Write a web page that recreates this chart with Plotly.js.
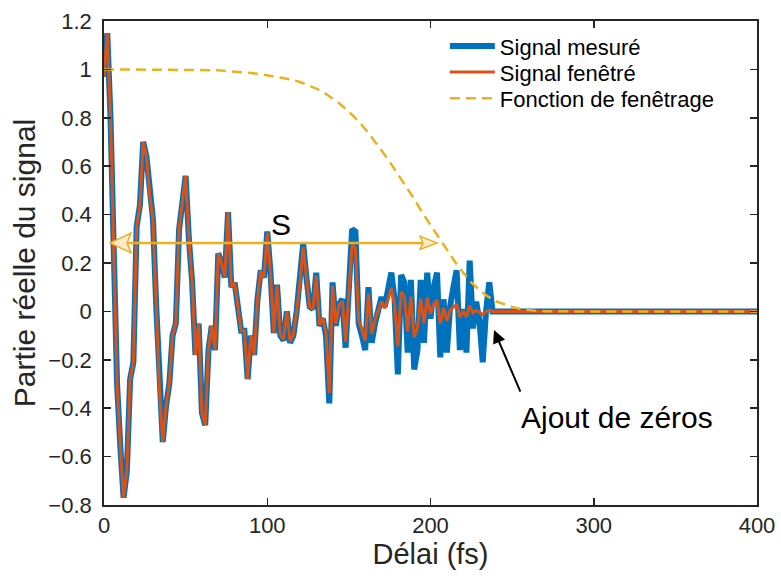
<!DOCTYPE html>
<html>
<head>
<meta charset="utf-8">
<script src="https://cdn.plot.ly/plotly-3.0.1.min.js"></script>
<style>html,body{margin:0;padding:0;background:#fff;}#chart{width:781px;height:576px;}</style>
</head>
<body>
<div id="chart"></div>
<script>
// Delay axis sampling (fs)
const tempsDebut = 0;
const tempsPasSignal = 2;
const tempsPasFenetre = 5;

// Measured signal, t = 0 .. 238 fs (step 2 fs)
const signalMesure = [
  0.97, 1.15, 0.80, 0.20, -0.30, -0.56, -0.77, -0.66, -0.28, -0.21,
  0.35, 0.44, 0.70, 0.64, 0.48, 0.38, 0.02, -0.33, -0.54, -0.39,
  -0.30, -0.10, -0.05, 0.34, 0.45, 0.56, 0.30, 0.12, -0.18, -0.05,
  -0.42, -0.47, -0.16, -0.06, -0.16, 0.24, 0.20, 0.14, 0.41, 0.10,
  0.12, 0.02, -0.08, -0.08, -0.28, -0.10, -0.18, 0.05, 0.17, 0.14,
  0.33, 0.16, -0.09, 0.11, -0.10, -0.12, 0.00, -0.13, -0.10, 0.00,
  0.12, 0.28, 0.14, 0.02, 0.01, 0.16, -0.06, -0.03, -0.10, -0.38,
  0.12, -0.06, 0.03, 0.05, -0.15, 0.12, 0.34, 0.33, -0.05, -0.10,
  -0.16, 0.10, -0.13, -0.05, 0.01, 0.06, 0.02, 0.08, 0.16, 0.05,
  -0.26, 0.15, 0.12, -0.17, 0.13, -0.24, -0.16, 0.13, -0.13, 0.16,
  -0.03, 0.10, 0.16, -0.19, 0.05, -0.17, 0.02, 0.10, 0.17, -0.16,
  0.01, -0.17, 0.21, -0.07, 0.04, -0.04, -0.21, 0.00, 0.12, 0.00
];

// Windowed signal, t = 0 .. 238 fs (step 2 fs)
const signalFenetre = [
  0.97, 1.15, 0.80, 0.20, -0.30, -0.56, -0.77, -0.66, -0.28, -0.21,
  0.35, 0.44, 0.70, 0.64, 0.48, 0.38, 0.02, -0.33, -0.54, -0.39,
  -0.30, -0.10, -0.05, 0.34, 0.45, 0.56, 0.30, 0.12, -0.18, -0.05,
  -0.42, -0.47, -0.16, -0.06, -0.16, 0.24, 0.20, 0.14, 0.41, 0.10,
  0.12, 0.02, -0.08, -0.08, -0.278, -0.099, -0.178, 0.049, 0.168, 0.138,
  0.324, 0.157, -0.088, 0.107, -0.097, -0.116, 0.000, -0.125, -0.096, 0.000,
  0.114, 0.265, 0.132, 0.019, 0.009, 0.147, -0.055, -0.027, -0.090, -0.338,
  0.105, -0.052, 0.026, 0.042, -0.125, 0.099, 0.275, 0.263, -0.039, -0.077,
  -0.120, 0.073, -0.093, -0.035, 0.007, 0.040, 0.013, 0.050, 0.096, 0.029,
  -0.145, 0.081, 0.062, -0.084, 0.061, -0.107, -0.068, 0.052, -0.049, 0.057,
  -0.010, 0.031, 0.047, -0.051, 0.013, -0.039, 0.004, 0.019, 0.030, -0.025,
  0.001, -0.022, 0.024, -0.007, 0.004, -0.003, -0.014, 0.000, 0.006, 0.000
];

// Zero padding, t = 240 .. 400 fs (step 2 fs)
const ajoutZeros = [
  0, 0, 0, 0, 0, 0, 0, 0, 0, 0,
  0, 0, 0, 0, 0, 0, 0, 0, 0, 0,
  0, 0, 0, 0, 0, 0, 0, 0, 0, 0,
  0, 0, 0, 0, 0, 0, 0, 0, 0, 0,
  0, 0, 0, 0, 0, 0, 0, 0, 0, 0,
  0, 0, 0, 0, 0, 0, 0, 0, 0, 0,
  0, 0, 0, 0, 0, 0, 0, 0, 0, 0,
  0, 0, 0, 0, 0, 0, 0, 0, 0, 0,
  0
];

// Window function, t = 0 .. 400 fs (step 5 fs)
const fonctionFenetrage = [
  1, 1, 1, 1, 1, 1, 1, 1, 1, 1, 1, 1,
  0.998, 0.997, 0.996, 0.994, 0.991, 0.988, 0.985, 0.981, 0.976, 0.971,
  0.966, 0.958, 0.948, 0.936, 0.921, 0.903, 0.880, 0.855, 0.825, 0.792,
  0.754, 0.712, 0.665, 0.618, 0.568, 0.517, 0.465, 0.408, 0.357, 0.305,
  0.255, 0.205, 0.160, 0.120, 0.088, 0.062, 0.042, 0.029, 0.018, 0.010,
  0.005, 0.002, 0.001,
  0, 0, 0, 0, 0, 0, 0, 0, 0, 0, 0, 0, 0,
  0, 0, 0, 0, 0, 0, 0, 0, 0, 0, 0, 0, 0
];

const seriesNoms = ['Signal mesuré', 'Signal fenêtré', 'Fonction de fenêtrage'];
const xTicks = [0, 100, 200, 300, 400];
const yTicks = [-0.8, -0.6, -0.4, -0.2, 0, 0.2, 0.4, 0.6, 0.8, 1, 1.2];
const yTickLabels = ['\u22120.8', '\u22120.6', '\u22120.4', '\u22120.2', '0', '0.2', '0.4', '0.6', '0.8', '1', '1.2'];

const FONT = '"Liberation Sans", Arial, Helvetica, sans-serif';
const AX = '#262626';
const YEL = '#EDB120';

const traces = [
  {
    type: 'scatter', mode: 'lines', name: seriesNoms[0], legend: 'legend',
    x0: tempsDebut, dx: tempsPasSignal, y: signalMesure.concat(ajoutZeros),
    line: {color: '#0072BD', width: 6}
  },
  {
    type: 'scatter', mode: 'lines', name: seriesNoms[1], legend: 'legend2',
    x0: tempsDebut, dx: tempsPasSignal, y: signalFenetre.concat(ajoutZeros),
    line: {color: '#D95319', width: 3}
  },
  {
    type: 'scatter', mode: 'lines', name: seriesNoms[2], legend: 'legend3',
    x0: tempsDebut, dx: tempsPasFenetre, y: fonctionFenetrage,
    line: {color: YEL, width: 2.5, dash: '10px,6px'}
  }
];

function legendRow(yPos) {
  return {
    x: 0.522, y: yPos, xanchor: 'left', yanchor: 'middle',
    bgcolor: 'rgba(0,0,0,0)', borderwidth: 0,
    font: {family: FONT, size: 22, color: '#000'},
    itemwidth: 45, tracegroupgap: 0
  };
}

const layout = {
  width: 781, height: 576,
  margin: {l: 104, r: 24, t: 21, b: 71, pad: 0},
  paper_bgcolor: '#fff', plot_bgcolor: '#fff',
  font: {family: FONT, color: AX},
  showlegend: true,
  legend: legendRow(0.948),
  legend2: legendRow(0.894),
  legend3: legendRow(0.840),
  xaxis: {
    range: [0, 400], tickmode: 'array', tickvals: xTicks,
    ticks: 'inside', ticklen: 7, tickwidth: 1.5, tickcolor: AX,
    mirror: 'allticks', showline: true, linewidth: 1.8, linecolor: AX,
    showgrid: false, zeroline: false,
    tickfont: {family: FONT, size: 22, color: AX},
    title: {text: 'Délai (fs)', font: {family: FONT, size: 29, color: AX}, standoff: 4}
  },
  yaxis: {
    range: [-0.8, 1.2], tickmode: 'array', tickvals: yTicks, ticktext: yTickLabels,
    ticks: 'inside', ticklen: 7, tickwidth: 1.5, tickcolor: AX,
    mirror: 'allticks', showline: true, linewidth: 1.8, linecolor: AX,
    showgrid: false, zeroline: false,
    tickfont: {family: FONT, size: 22, color: AX},
    ticklabelstandoff: 6,
    title: {text: 'Partie réelle du signal', font: {family: FONT, size: 30, color: AX}, standoff: 4}
  },
  shapes: [
    {type: 'line', xref: 'x', yref: 'y', x0: 5, x1: 202, y0: 0.283, y1: 0.283,
     line: {color: YEL, width: 2.5}},
    {type: 'path', xref: 'x', yref: 'y',
     path: 'M 3.7 0.283 L 16.6 0.324 L 14.1 0.283 L 16.6 0.242 Z',
     fillcolor: '#FCEBC9', line: {color: YEL, width: 1.5}},
    {type: 'path', xref: 'x', yref: 'y',
     path: 'M 204 0.283 L 193.6 0.310 L 195.4 0.283 L 193.6 0.256 Z',
     fillcolor: '#FCEBC9', line: {color: YEL, width: 1.5}}
  ],
  annotations: [
    {xref: 'x', yref: 'y', x: 108.4, y: 0.361, text: 'S', showarrow: false,
     xanchor: 'center', yanchor: 'middle', font: {family: FONT, size: 30, color: '#000'}},
    {xref: 'x', yref: 'y', x: 314, y: -0.44, text: 'Ajout de zéros', showarrow: false,
     xanchor: 'center', yanchor: 'middle', font: {family: FONT, size: 30, color: '#000'}},
    {xref: 'x', yref: 'y', x: 238.9, y: -0.077, text: '', showarrow: true,
     ax: 27, ay: 63, arrowcolor: '#000', arrowwidth: 2, arrowhead: 2, arrowsize: 1.3}
  ]
};

Plotly.newPlot('chart', traces, layout, {displayModeBar: false, staticPlot: true});
</script>
</body>
</html>
